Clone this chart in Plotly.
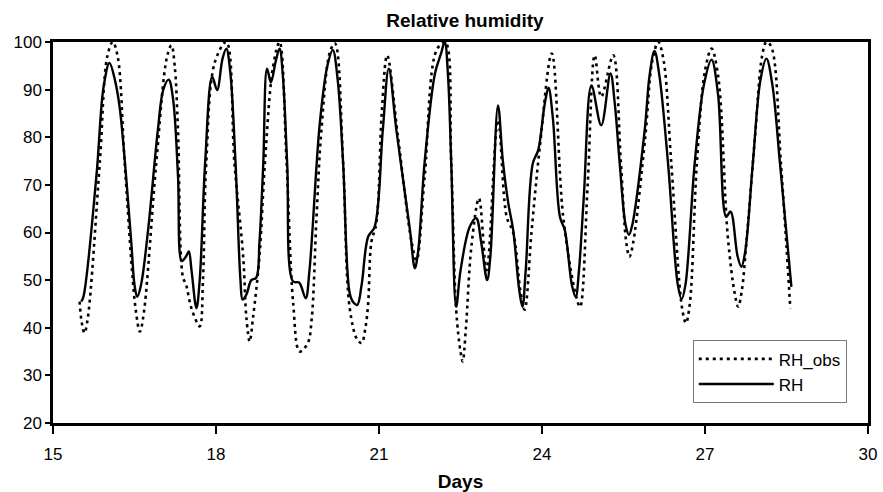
import plotly.graph_objects as go

# Relative humidity, simulated (RH) and observed (RH_obs)
rh_days = [15.52, 15.56, 15.80, 15.93, 16.04, 16.14, 16.23, 16.44, 16.50, 16.55,
           16.62, 16.75, 16.93, 17.03, 17.13, 17.21, 17.30, 17.37, 17.45, 17.50,
           17.55, 17.64, 17.70, 17.80, 17.93, 18.02, 18.12, 18.19, 18.26, 18.36,
           18.45, 18.49, 18.56, 18.65, 18.74, 18.80, 18.87, 18.94, 19.01, 19.10,
           19.17, 19.23, 19.31, 19.42, 19.53, 19.65, 19.72, 19.91, 20.05, 20.15,
           20.24, 20.34, 20.46, 20.53, 20.60, 20.68, 20.80, 20.92, 21.07, 21.18,
           21.32, 21.57, 21.66, 21.72, 21.84, 22.03, 22.14, 22.21, 22.27, 22.33,
           22.42, 22.50, 22.67, 22.79, 22.88, 22.99, 23.05, 23.19, 23.28, 23.38,
           23.47, 23.58, 23.64, 23.70, 23.83, 23.93, 24.05, 24.12, 24.20, 24.33,
           24.42, 24.55, 24.62, 24.68, 24.77, 24.91, 25.09, 25.26, 25.34, 25.43,
           25.54, 25.60, 25.66, 25.89, 25.98, 26.07, 26.16, 26.32, 26.50, 26.57,
           26.64, 26.81, 26.98, 27.12, 27.24, 27.39, 27.47, 27.60, 27.67, 27.74,
           27.88, 28.02, 28.13, 28.24, 28.38, 28.59]
rh_vals = [45.5, 46.5, 72.0, 90.5, 95.6, 92.0, 86.0, 58.0, 49.0, 46.5,
           49.0, 60.5, 81.5, 90.0, 92.1, 88.0, 72.0, 54.0, 55.0, 56.0,
           52.0, 44.1, 50.0, 74.6, 92.7, 89.9, 96.5, 98.6, 94.0, 74.5,
           50.0, 45.9, 47.0, 50.0, 50.5, 58.0, 74.5, 94.4, 91.5, 96.0,
           98.6, 93.0, 74.5, 49.7, 49.5, 46.2, 52.0, 82.9, 95.0, 98.3,
           92.0, 74.5, 47.3, 45.3, 44.8, 49.0, 59.1, 61.2, 81.5, 94.4,
           81.5, 60.5, 52.5, 56.0, 74.8, 93.4, 97.5, 100.0, 93.0, 74.5,
           44.4, 52.0, 61.2, 63.0, 58.0, 50.0, 55.0, 86.7, 75.0, 66.1,
           60.5, 48.0, 44.4, 52.0, 74.5, 77.3, 87.0, 90.4, 84.0, 63.3,
           60.5, 49.0, 46.5, 52.0, 67.6, 90.9, 82.5, 93.4, 87.0, 74.5,
           61.5, 59.5, 61.5, 81.5, 93.0, 98.1, 93.0, 74.5, 49.0, 46.0,
           49.0, 74.5, 91.0, 96.3, 89.0, 63.3, 64.4, 55.0, 52.8, 56.0,
           74.5, 92.0, 96.5, 91.0, 74.5, 48.6]

obs_days = [15.49, 15.53, 15.58, 15.64, 15.86, 16.00, 16.10, 16.19, 16.32, 16.52,
            16.60, 16.67, 16.90, 17.10, 17.18, 17.24, 17.30, 17.39, 17.45, 17.55,
            17.70, 17.76, 17.82, 17.98, 18.19, 18.34, 18.50, 18.56, 18.62, 18.68,
            18.80, 18.90, 19.05, 19.17, 19.30, 19.42, 19.54, 19.69, 19.76, 19.85,
            19.94, 20.10, 20.19, 20.34, 20.46, 20.60, 20.68, 20.75, 20.80, 20.86,
            20.95, 21.05, 21.15, 21.35, 21.60, 21.69, 21.84, 22.06, 22.22, 22.33,
            22.42, 22.50, 22.54, 22.60, 22.70, 22.84, 22.98, 23.19, 23.35, 23.47,
            23.60, 23.68, 23.81, 23.96, 24.18, 24.39, 24.62, 24.70, 24.84, 24.97,
            25.09, 25.31, 25.45, 25.55, 25.61, 25.68, 25.90, 26.03, 26.14, 26.24,
            26.38, 26.58, 26.65, 26.72, 26.85, 27.00, 27.12, 27.24, 27.42, 27.55,
            27.61, 27.68, 27.76, 27.92, 28.05, 28.13, 28.22, 28.40, 28.57]
obs_vals = [45.5, 41.0, 38.9, 42.0, 74.5, 97.0, 100.0, 97.0, 74.5, 44.0,
            39.2, 43.0, 74.5, 97.0, 99.3, 95.0, 81.5, 50.7, 49.0, 44.0,
            40.3, 50.0, 74.5, 95.8, 100.0, 74.5, 55.0, 42.0, 37.1, 42.0,
            55.0, 74.5, 94.8, 100.0, 74.5, 45.2, 35.0, 36.8, 41.7, 63.3,
            81.5, 98.0, 99.7, 74.5, 44.2, 37.5, 36.8, 40.0, 45.0, 58.0,
            61.9, 85.0, 97.2, 80.0, 58.0, 54.2, 71.7, 98.3, 100.0, 74.5,
            43.8, 35.0, 32.9, 40.0, 57.0, 67.2, 52.1, 83.6, 63.3, 60.0,
            48.0, 43.8, 60.5, 78.0, 97.6, 63.3, 47.0, 44.4, 70.0, 97.2,
            88.5, 97.2, 75.0, 58.0, 54.9, 58.0, 80.0, 96.0, 100.0, 96.0,
            74.5, 44.0, 41.0, 45.0, 74.5, 94.0, 98.6, 93.0, 59.1, 47.0,
            44.4, 48.0, 57.7, 80.0, 97.0, 100.0, 99.0, 74.0, 44.1]

x_ticks = [15, 18, 21, 24, 27, 30]
y_ticks = [20, 30, 40, 50, 60, 70, 80, 90, 100]

FONT = "Liberation Sans, Arial, sans-serif"

fig = go.Figure()
fig.add_trace(go.Scatter(
    x=obs_days, y=obs_vals, name="RH_obs", mode="lines",
    line=dict(color="black", width=2.6, dash="3px,4px", shape="spline", smoothing=1.0),
))
fig.add_trace(go.Scatter(
    x=rh_days, y=rh_vals, name="RH", mode="lines",
    line=dict(color="black", width=2.4, shape="spline", smoothing=1.0),
))

axis_common = dict(showgrid=False, zeroline=False, linecolor="black", linewidth=2.5,
                   tickcolor="black", tickwidth=1.5, automargin=False,
                   tickfont=dict(family=FONT, size=17, color="black"))

fig.update_layout(
    width=883, height=492,
    margin=dict(l=53, r=15, t=42, b=69),
    paper_bgcolor="white", plot_bgcolor="white",
    font=dict(family=FONT, color="black"),
    showlegend=True,
    legend=dict(
        x=0.785, y=0.217, xanchor="left", yanchor="top",
        bgcolor="white", bordercolor="#777777", borderwidth=1,
        font=dict(family=FONT, size=17, color="black"),
        itemwidth=75, tracegroupgap=0,
    ),
    xaxis=dict(range=[15, 30], tickvals=x_ticks, ticks="outside", ticklen=8,
               mirror=True, ticklabelstandoff=6,
               title=dict(text="<b>Days</b>", font=dict(family=FONT, size=19), standoff=14),
               **axis_common),
    yaxis=dict(range=[20, 100], tickvals=y_ticks, ticks="outside", ticklen=5,
               mirror=True,
               **axis_common),
    xaxis2=dict(range=[15, 30], tickvals=x_ticks, ticks="inside", ticklen=8,
                overlaying="x", anchor="y", side="bottom", showticklabels=False,
                showgrid=False, zeroline=False, showline=False, automargin=False,
                tickcolor="black", tickwidth=1.5),
    yaxis2=dict(range=[20, 100], tickvals=y_ticks, ticks="inside", ticklen=8,
                overlaying="y", anchor="x", side="left", showticklabels=False,
                showgrid=False, zeroline=False, showline=False, automargin=False,
                tickcolor="black", tickwidth=1.5),
    title=dict(text="<b>Relative humidity</b>", x=465 / 883, xanchor="center",
               y=1 - 20 / 492, yanchor="middle",
               font=dict(family=FONT, size=19, color="black")),
)

fig.write_html(
    "out.html",
    config={"displayModeBar": False},
    post_script="document.body.style.margin='0';document.body.style.overflow='hidden';",
)
